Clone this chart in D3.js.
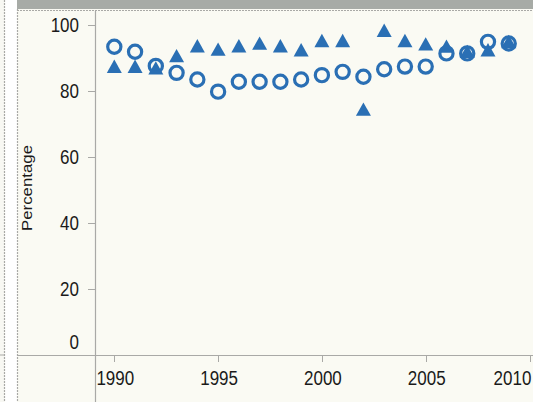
<!DOCTYPE html>
<html>
<head>
<meta charset="utf-8">
<script src="https://cdn.jsdelivr.net/npm/d3@7"></script>
<style>
  html, body { margin: 0; padding: 0; background: #ffffff; }
  svg { display: block; }
  text { font-family: "Liberation Sans", Arial, sans-serif; fill: #1a1a1a; }
</style>
</head>
<body>
<svg id="chart" width="533" height="402"></svg>
<script>
// ---- data ----
const years = [1990, 1991, 1992, 1993, 1994, 1995, 1996, 1997, 1998, 1999,
               2000, 2001, 2002, 2003, 2004, 2005, 2006, 2007, 2008, 2009];
const circleValues = [93.4, 91.9, 87.6, 85.5, 83.5, 79.8, 82.8, 82.8, 82.8, 83.5,
                      84.8, 85.8, 84.3, 86.6, 87.4, 87.4, 91.4, 91.4, 94.9, 94.4];
const triangleValues = [87.4, 87.4, 86.9, 90.6, 93.6, 92.6, 93.6, 94.4, 93.6, 92.4,
                        95.2, 95.2, 74.4, 98.3, 95.2, 94.2, 93.5, 91.9, 92.4, 94.9];
const yTicks = [0, 20, 40, 60, 80, 100];
const xTicks = [1990, 1995, 2000, 2005, 2010];
const yTitle = "Percentage";

// ---- layout ----
const W = 533, H = 402;
const panelX = 17, headerH = 9, plotX = 95, axisY = 355;
const blue = "#2a6fb4";
const lineGray = "#a9a9a6";
const stretch = 1.22;

const svg = d3.select("#chart");

// background areas
svg.append("rect").attr("x", 0).attr("y", 0).attr("width", W).attr("height", H).attr("fill", "#ffffff");
svg.append("rect").attr("x", 0).attr("y", 0).attr("width", 5).attr("height", H).attr("fill", "#f8f8f3");
svg.append("line").attr("x1", 4.5).attr("x2", 4.5).attr("y1", 0).attr("y2", H)
  .attr("stroke", lineGray).attr("stroke-width", 1.2).attr("stroke-dasharray", "2,1");
svg.append("line").attr("x1", 0).attr("x2", 4).attr("y1", axisY).attr("y2", axisY)
  .attr("stroke", lineGray).attr("stroke-width", 1);

svg.append("rect").attr("x", panelX).attr("y", headerH).attr("width", W - panelX).attr("height", H - headerH)
  .attr("fill", "#fafaf3");
svg.append("rect").attr("x", panelX).attr("y", 0).attr("width", W - panelX).attr("height", headerH)
  .attr("fill", "#a7aba6");

// panel borders
svg.append("line").attr("x1", panelX + 0.5).attr("x2", panelX + 0.5).attr("y1", headerH).attr("y2", H)
  .attr("stroke", lineGray).attr("stroke-width", 1.2).attr("stroke-dasharray", "2,1");
svg.append("line").attr("x1", panelX).attr("x2", W).attr("y1", headerH + 1.5).attr("y2", headerH + 1.5)
  .attr("stroke", lineGray).attr("stroke-width", 1.2).attr("stroke-dasharray", "2,1");
svg.append("line").attr("x1", plotX + 0.5).attr("x2", plotX + 0.5).attr("y1", headerH + 2).attr("y2", H)
  .attr("stroke", lineGray).attr("stroke-width", 1.2);
svg.append("line").attr("x1", panelX).attr("x2", W).attr("y1", axisY + 0.5).attr("y2", axisY + 0.5)
  .attr("stroke", lineGray).attr("stroke-width", 1.2);

// ---- scales ----
const x = d3.scaleLinear().domain([1990, 2010]).range([114.3, 529.5]);
const y = d3.scaleLinear().domain([0, 100]).range([axisY, 25]);

// y axis ticks and labels
const yAxis = svg.append("g");
yAxis.selectAll("line").data(yTicks).join("line")
  .attr("x1", plotX - 7).attr("x2", plotX)
  .attr("y1", d => Math.round(y(d)) + 0.5).attr("y2", d => Math.round(y(d)) + 0.5)
  .attr("stroke", lineGray).attr("stroke-width", 1);
yAxis.selectAll("text").data(yTicks).join("text")
  .attr("transform", d => `translate(79,${Math.min(y(d), 342)}) scale(1,${stretch})`)
  .attr("text-anchor", "end").attr("dy", "0.36em")
  .attr("font-size", 17).text(d => d);

// y title
svg.append("text")
  .attr("transform", `translate(27,188) rotate(-90) scale(${stretch},1)`)
  .attr("text-anchor", "middle").attr("dy", "0.35em")
  .attr("font-size", 13.8).text(yTitle);

// x axis ticks and labels
const xAxis = svg.append("g");
xAxis.selectAll("line").data(xTicks).join("line")
  .attr("x1", d => Math.round(x(d)) + 0.5).attr("x2", d => Math.round(x(d)) + 0.5)
  .attr("y1", axisY).attr("y2", axisY + 7)
  .attr("stroke", lineGray).attr("stroke-width", 1);
xAxis.selectAll("text").data(xTicks).join("text")
  .attr("transform", d => {
    const cx = Math.min(x(d) + 1, W - 1 - 19.5);
    return `translate(${cx},385) scale(1,${stretch})`;
  })
  .attr("text-anchor", "middle")
  .attr("font-size", 17).text(d => d);

// ---- marks ----
const triPath = "M0,-7L7.5,6.3L-7.5,6.3Z";
svg.append("g").selectAll("path").data(years).join("path")
  .attr("transform", (d, i) => `translate(${x(d)},${y(triangleValues[i])})`)
  .attr("d", triPath)
  .attr("fill", blue);

svg.append("g").selectAll("circle").data(years).join("circle")
  .attr("cx", d => x(d))
  .attr("cy", (d, i) => y(circleValues[i]))
  .attr("r", 6.6)
  .attr("fill", "none")
  .attr("stroke", blue)
  .attr("stroke-width", 3.2);
</script>
</body>
</html>
